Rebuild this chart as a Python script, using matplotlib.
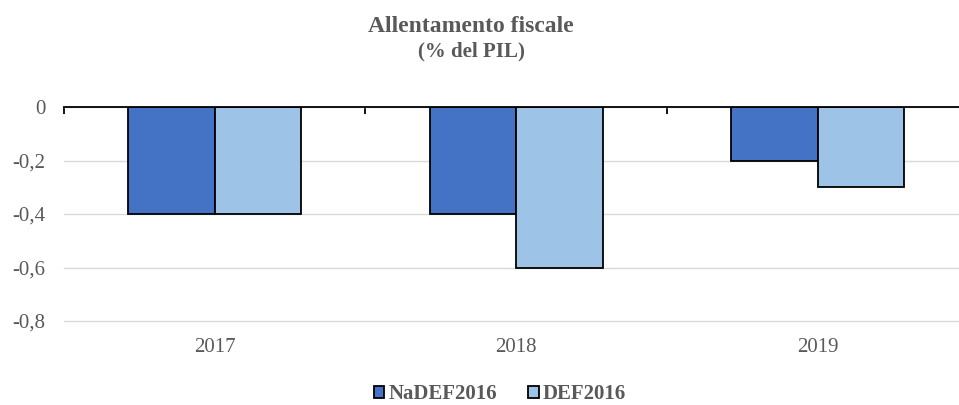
import numpy as np
import matplotlib
matplotlib.use('Agg')
import matplotlib.pyplot as plt
from matplotlib.patches import Patch

# data
years = ['2017', '2018', '2019']
nadef2016 = [-0.4, -0.4, -0.2]
def2016 = [-0.4, -0.6, -0.3]
series_names = ['NaDEF2016', 'DEF2016']
ytick_vals = [0, -0.2, -0.4, -0.6, -0.8]
ytick_labels = ['0', '-0,2', '-0,4', '-0,6', '-0,8']

dark_blue = '#4472C4'
light_blue = '#9DC3E6'
text_col = '#595959'

plt.rcParams['font.family'] = ['Liberation Serif', 'DejaVu Serif']

fig = plt.figure(figsize=(9.59, 4.05), dpi=100)
ax = fig.add_axes([64 / 959, 84 / 405, 904.5 / 959, 214 / 405])

x = np.arange(len(years))
width = 0.287
ax.bar(x - width / 2, nadef2016, width, color=dark_blue, edgecolor='black', linewidth=1.3, zorder=3)
ax.bar(x + width / 2, def2016, width, color=light_blue, edgecolor='black', linewidth=1.3, zorder=3)

ax.set_xlim(-0.5, len(years) - 0.5)
ax.set_ylim(-0.8, 0)

for s in ['left', 'right', 'bottom']:
    ax.spines[s].set_visible(False)
ax.spines['top'].set_color('black')
ax.spines['top'].set_linewidth(1.3)
ax.spines['top'].set_zorder(4)

ax.set_yticks(ytick_vals)
ax.set_yticklabels(ytick_labels)
ax.yaxis.grid(True, color='#d9d9d9', linewidth=1.0, zorder=0)
for gl in ax.get_ygridlines():
    gl.set_clip_on(False)
ax.tick_params(axis='y', length=0, pad=13.5, labelsize=15, labelcolor=text_col)

ax.set_xticks(x)
ax.set_xticklabels(years)
ax.tick_params(axis='x', which='major', length=0, pad=12, labelsize=15, labelcolor=text_col)
ax.set_xticks(np.arange(-0.5, len(years)), minor=True)
ax.tick_params(axis='x', which='minor', top=True, bottom=False, direction='in',
               length=5, width=1.3, color='black')

fig.text(471 / 959, 1 - 26 / 405, 'Allentamento fiscale', ha='center', va='center',
         fontsize=17, fontweight='bold', color=text_col)
fig.text(471 / 959, 1 - 51 / 405, '(% del PIL)', ha='center', va='center',
         fontsize=15, fontweight='bold', color=text_col)

handles = [Patch(facecolor=dark_blue, edgecolor='black', linewidth=1.3),
           Patch(facecolor=light_blue, edgecolor='black', linewidth=1.3)]
leg = fig.legend(handles, series_names, loc='center', bbox_to_anchor=(500 / 959, 11 / 405),
                 ncol=2, frameon=False, handlelength=0.5, handleheight=0.5,
                 handletextpad=0.2, columnspacing=1.5,
                 prop={'weight': 'bold', 'size': 15})
for t in leg.get_texts():
    t.set_color(text_col)

plt.savefig('out.png', dpi=100)
